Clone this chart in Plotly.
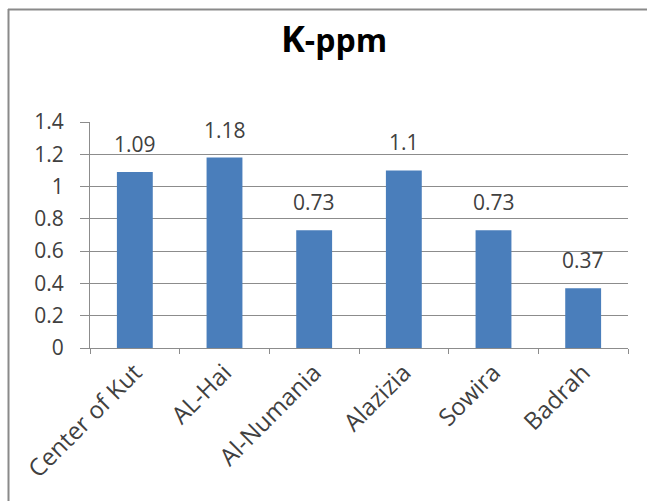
import plotly.graph_objects as go

# Potassium concentration (ppm) by location
locations = ["Center of Kut", "AL-Hai", "Al-Numania", "Alazizia", "Sowira", "Badrah"]
k_ppm = [1.09, 1.18, 0.73, 1.1, 0.73, 0.37]
value_labels = ["1.09", "1.18", "0.73", "1.1", "0.73", "0.37"]
y_ticks = [0, 0.2, 0.4, 0.6, 0.8, 1, 1.2, 1.4]
y_tick_text = ["0", "0.2", "0.4", "0.6", "0.8", "1", "1.2", "1.4"]

W, H = 647, 501
ML, MR, MT, MB = 90, 19, 122, 153
FONT = "'Open Sans', sans-serif"
TXT = "#404040"
GRID = "#8c8c8c"

fig = go.Figure(
    go.Bar(
        x=locations,
        y=k_ppm,
        marker=dict(color="#4a7ebb", line=dict(width=0)),
        cliponaxis=False,
    )
)

# value labels sitting above each bar
for loc, val, lab in zip(locations, k_ppm, value_labels):
    fig.add_annotation(
        x=loc, y=val, text=lab, showarrow=False,
        xanchor="center", yanchor="bottom", yshift=12,
        font=dict(family=FONT, size=21, color=TXT),
    )

fig.update_layout(
    width=W,
    height=H,
    margin=dict(l=ML, r=MR, t=MT, b=MB),
    paper_bgcolor="white",
    plot_bgcolor="white",
    showlegend=False,
    bargap=0.6,
    title=dict(
        text="<b><span style='font-size:36px'>K</span>-ppm</b>",
        x=334 / W, xanchor="center",
        y=1 - 41 / H, yanchor="middle",
        font=dict(family=FONT, size=32, color="black"),
    ),
    xaxis=dict(
        showline=True, linecolor=GRID, linewidth=1,
        ticks="outside", tickson="boundaries", ticklen=5, tickcolor=GRID,
        tickangle=-45,
        tickfont=dict(family=FONT, size=24, color=TXT),
        showgrid=False,
    ),
    yaxis=dict(
        range=[0, 1.4],
        tickvals=y_ticks, ticktext=y_tick_text,
        showline=True, linecolor=GRID, linewidth=1,
        ticks="outside", ticklen=9, tickcolor=GRID,
        ticklabelstandoff=12,
        showgrid=True, gridcolor=GRID, gridwidth=1,
        zeroline=False,
        tickfont=dict(family=FONT, size=21, color=TXT),
    ),
)

# outer chart frame: only the top and left edges fall inside the page
def px_x(px):
    return (px - ML) / (W - ML - MR)

def px_y(py):
    return 1 - (py - MT) / (H - MT - MB)

fig.add_shape(type="line", xref="paper", yref="paper",
              x0=px_x(8), x1=px_x(W), y0=px_y(9.5), y1=px_y(9.5),
              line=dict(color="#8a8a8a", width=2))
fig.add_shape(type="line", xref="paper", yref="paper",
              x0=px_x(8.5), x1=px_x(8.5), y0=px_y(9), y1=px_y(H),
              line=dict(color="#8a8a8a", width=2))

fig.write_html(
    "out.html",
    config={"displayModeBar": False},
    post_script="document.documentElement.style.overflow='hidden';"
                "document.body.style.margin='0';",
)
